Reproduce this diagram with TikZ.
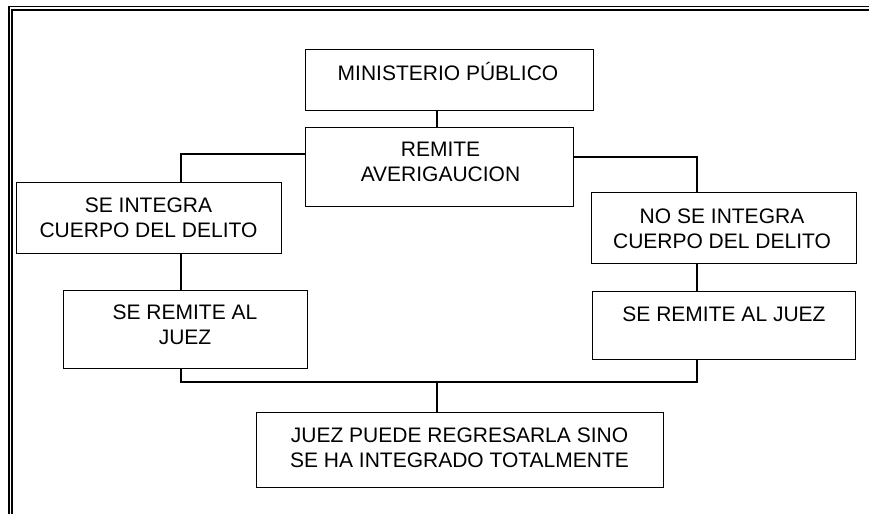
\documentclass[tikz,border=0pt]{standalone}
\usepackage{fontspec}
\setmainfont{Liberation Sans}
\begin{document}
\begin{tikzpicture}[x=1pt,y=-1pt,
  box/.style={draw=black,line width=1.3pt,inner sep=0pt,anchor=north west},
  txt/.style={font=\fontsize{21}{25}\selectfont,align=center,inner sep=0pt},
  conn/.style={draw=black,line width=1.3pt}]
\useasboundingbox (0,0) rectangle (869,514);
% frame
\draw[line width=1.8pt] (869,6.5) -- (9,6.5) -- (9,514);
\draw[line width=1.6pt] (869,9.9) -- (12,9.9) -- (12,514);
% boxes
\node[box,minimum width=288pt,minimum height=61pt] (mp) at (305,49) {};
\node[box,minimum width=268pt,minimum height=79pt] (ra) at (305,127) {};
\node[box,minimum width=265pt,minimum height=71pt] (si) at (16,182) {};
\node[box,minimum width=244pt,minimum height=78pt] (srl) at (63,290) {};
\node[box,minimum width=265pt,minimum height=71pt] (nsi) at (591,192) {};
\node[box,minimum width=263pt,minimum height=68pt] (srr) at (592,291) {};
\node[box,minimum width=407pt,minimum height=75pt] (jz) at (256,412) {};
% texts
\node[txt,anchor=base] (mpT) at (448,80) {MINISTERIO PÚBLICO};
\node[txt] (raT) at (440.5,161.7) {REMITE\\AVERIGAUCION};
\node[txt] (siT) at (148.5,217.5) {SE INTEGRA\\CUERPO DEL DELITO};
\node[txt] (nsiT) at (722,228.3) {NO SE INTEGRA\\CUERPO DEL DELITO};
\node[txt] (srlT) at (185,325) {SE REMITE AL\\JUEZ};
\node[txt,anchor=base] (srrT) at (724,321.7) {SE REMITE AL JUEZ};
\node[txt] (jzT) at (459.5,447.5) {JUEZ PUEDE REGRESARLA SINO\\SE HA INTEGRADO TOTALMENTE};
% connectors
\coordinate (xc) at (437,382);
\draw[conn] (mp.south -| xc) -- (ra.north -| xc);
\draw[conn] (ra.west |- 0,154) -- (181,154) -- (si.north -| 181,0);
\draw[conn] (ra.east |- 0,157) -- (697,157) -- (nsi.north -| 697,0);
\draw[conn] (si.south -| 181,0) -- (srl.north -| 181,0);
\draw[conn] (nsi.south -| 697,0) -- (srr.north -| 697,0);
\draw[conn] (srl.south -| 181,0) -- (181,382) -- (697,382) -- (srr.south -| 697,0);
\draw[conn] (xc) -- (jz.north -| xc);
\end{tikzpicture}
\end{document}
